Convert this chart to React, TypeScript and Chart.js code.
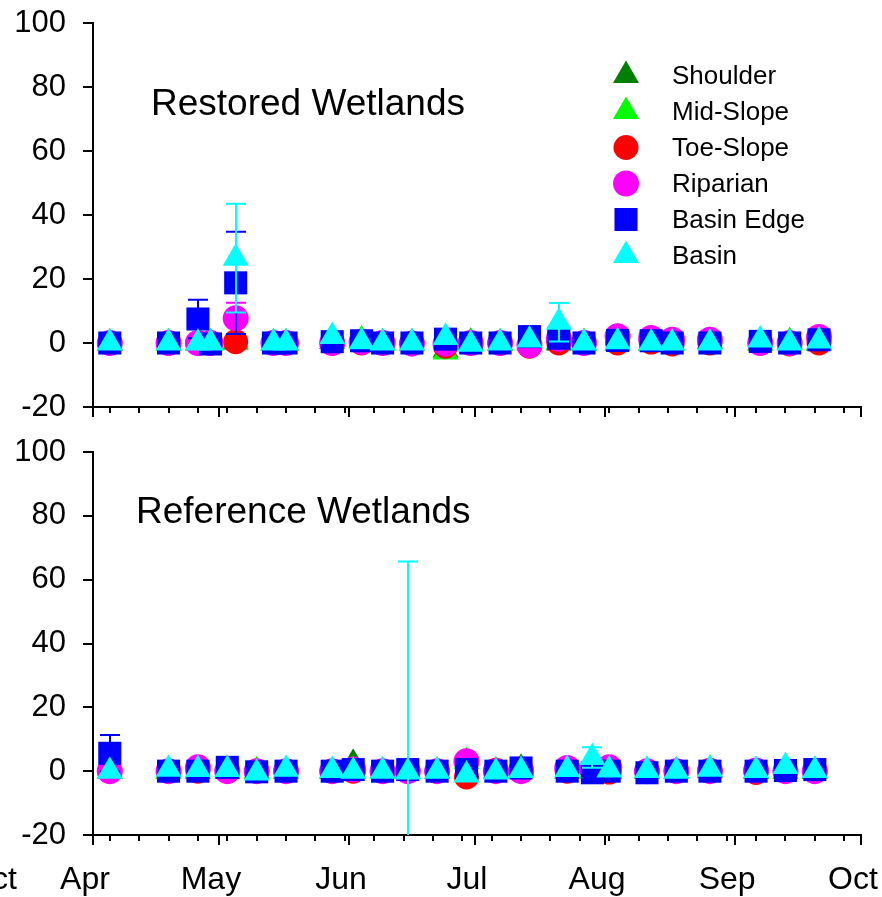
import React, { useEffect, useRef } from 'react';
import { Chart, registerables } from 'chart.js';
import { drawPoint } from 'chart.js/helpers';

Chart.register(...registerables);

// ---------- axis data ----------
const MONTH_LABELS = ['Apr', 'May', 'Jun', 'Jul', 'Aug', 'Sep', 'Oct'];
const MONTH_START_DAY = [0, 30, 61, 91, 122, 153, 183]; // days after Apr 1
const WEEK_TICK_DAY = [4, 11, 18, 25, 32, 39, 46, 53, 60, 67, 74, 81, 88, 95, 102, 109, 116, 123, 130, 137, 144, 151, 158, 165, 172, 179];
const Y_TICKS = [-20, 0, 20, 40, 60, 80, 100];

const SERIES_NAMES = ['Shoulder', 'Mid-Slope', 'Toe-Slope', 'Riparian', 'Basin Edge', 'Basin'];

// ---------- Restored wetlands ----------
const RESTORED_DATES = ['Apr 5', 'Apr 19', 'Apr 26', 'Apr 29', 'May 5', 'May 14', 'May 17', 'May 28', 'Jun 4', 'Jun 9', 'Jun 16', 'Jun 24', 'Jun 30', 'Jul 7', 'Jul 14', 'Jul 21', 'Jul 27', 'Aug 4', 'Aug 12', 'Aug 17', 'Aug 26', 'Sep 7', 'Sep 14', 'Sep 21'];
const R_SHOULDER = [0, 0, 0, 0, 0.3, 0, 0, 0.5, 0.8, 0, 0, -2.2, 0.2, 0, 0.3, 0, 0, 0, 0, 0, 0.5, 0, 0.3, 0];
const R_MIDSLOPE = [0, 0, 0, 0, 0.6, 0, 0, 0.5, 0.9, 0, 0, -2.8, 0, 0, 0, 0.5, 0, 0, 0, 0, 0.6, 0, 0.3, 0];
const R_TOESLOPE = [0, 0, 0, 0, 0.4, 0, 0, 0, 0, 0, 0, -1.0, 0, 0, -1.0, 0, 0, 0, 0.3, -0.3, 0, 0, -0.3, 0];
const R_RIPARIAN = [0, 0, 0, 0, 7.7, 0, 0, 0, 0.3, 0, -0.2, -0.2, 0, 0, -0.7, 1.3, 0, 2.1, 1.6, 1.0, 1.0, 0, 0, 1.9];
const R_BASINEDGE = [0, 0, 7.5, -0.3, 18.8, 0, 0, 0.4, 0.7, 0, 0, 1.2, 0, 0, 2.0, 1.5, 0, 0.8, 0.7, 0, 0, 0.5, 0, 1.0];
const R_BASIN = [0, 0, 0, 0, 26.5, 0, 0, 2.0, 0.4, 0, 0, 1.7, -0.4, 0, 0.9, 6.5, 0, 0.4, 0, 0, 0, 0.9, 0, 0.6];
// standard errors (0 = not visible)
const R_RIPARIAN_ERR = [0, 0, 0, 0, 4.9, 0, 0, 0, 0, 0, 0, 0, 0, 0, 0, 0, 0, 0, 0, 0, 0, 0, 0, 0];
const R_BASINEDGE_ERR = [0, 0, 6, 0, 16, 0, 0, 0, 0, 0, 0, 1.8, 0, 0, 0, 0, 0, 0, 0, 0, 0, 0, 0, 0];
const R_BASIN_ERR = [0, 0, 0, 0, 17, 0, 0, 0, 0, 0, 0, 0, 0, 0, 0, 6, 0, 0, 0, 0, 0, 0, 0, 0];

// ---------- Reference wetlands ----------
const REFERENCE_DATES = ['Apr 5', 'Apr 19', 'Apr 26', 'May 3', 'May 10', 'May 17', 'May 28', 'Jun 2', 'Jun 9', 'Jun 15', 'Jun 22', 'Jun 29', 'Jul 6', 'Jul 12', 'Jul 23', 'Jul 29', 'Aug 2', 'Aug 11', 'Aug 18', 'Aug 26', 'Sep 6', 'Sep 13', 'Sep 20'];
const F_SHOULDER = [0, 0, 0, 0, 0, 0, 0, 2.5, 0, 0, 0, 0, 0, 0.9, 0, 0, 0, 0, 0, 0.3, 0, 0, 0];
const F_MIDSLOPE = [0, 0, 0, 0.5, 0, 0, 0, 0, 0, 0, 0, 3.0, 0, 0.3, 0, 0, 0, 0.2, 0, 0.6, 0, 0, 0.2];
const F_TOESLOPE = [0, 0, 0, 0, 0, 0, 0, 0, 0, 0, 0, -1.8, 0.3, 0.5, 0, 0, -0.3, 0, 0, 0.3, -0.4, 0, 0];
const F_RIPARIAN = [0, 0, 1.2, 0, 0, 0, 0, 0.5, 0, 0, 0, 3.1, 0, 0, 1.0, 0.5, 1.2, 0, 0, 0, 0.2, 0, 0];
const F_BASINEDGE = [5.6, 0, 0, 1.2, -0.2, 0, 0, 0.5, 0, 0.5, 0, 0.5, 0, 1.0, 0, -0.5, 0, -0.5, 0, 0, 0, 0.2, 0.5];
const F_BASIN = [0, 0.6, 0.5, 0.5, -0.6, 0.6, 0.2, 0, 0, -0.3, 0, -1.2, -0.3, 0.2, 0.5, 4.3, 0.4, 0.2, 0, 0.6, 0.2, 1.5, 0.2];
const F_BASINEDGE_ERR = [5.7, 0, 0, 0, 0, 0, 0, 0, 0, 0, 0, 0, 0, 0, 0, 0, 0, 0, 0, 0, 0, 0, 0];
const F_BASIN_ERR = [0, 0, 0, 0, 0, 0, 0, 0, 0, 66, 0, 0, 0, 0, 0, 3.2, 0, 0, 0, 0, 0, 0, 0];

// ---------- styles ----------
const FONT = "'Liberation Sans', Arial, Helvetica, sans-serif";
const SERIES_STYLE = [
  { color: '#008000', pointStyle: 'triangle', radius: 15 },
  { color: '#00FF00', pointStyle: 'triangle', radius: 15 },
  { color: '#FF0000', pointStyle: 'circle', radius: 12.5 },
  { color: '#FF00FF', pointStyle: 'circle', radius: 13 },
  { color: '#0000FF', pointStyle: 'rect', radius: 16.3 },
  { color: '#00FFFF', pointStyle: 'triangle', radius: 15 },
];
const X_TICK_PADDING = 16;
const X_TICK_FONT = 32;
const Y_TICK_FONT = 31;
const TITLE_FONT = 37;
const LEGEND_FONT = 26;

function dayOf(label: string): number {
  const [mon, d] = label.split(' ');
  return MONTH_START_DAY[MONTH_LABELS.indexOf(mon)] + Number(d) - 1;
}

interface Panel {
  title: string;
  titleDx: number;
  titleBaseline: number;
  dates: string[];
  values: number[][];
  errors: (number[] | null)[];
  legend: boolean;
  labels: boolean;
  padTop: number;
  xHeight: number;
  leftover: boolean;
}

const RESTORED_PANEL: Panel = {
  title: 'Restored Wetlands',
  titleDx: 58,
  titleBaseline: 115,
  dates: RESTORED_DATES,
  values: [R_SHOULDER, R_MIDSLOPE, R_TOESLOPE, R_RIPARIAN, R_BASINEDGE, R_BASIN],
  errors: [null, null, null, R_RIPARIAN_ERR, R_BASINEDGE_ERR, R_BASIN_ERR],
  legend: true,
  labels: false,
  padTop: 23,
  xHeight: 23,
  leftover: false,
};

const REFERENCE_PANEL: Panel = {
  title: 'Reference Wetlands',
  titleDx: 43,
  titleBaseline: 93,
  dates: REFERENCE_DATES,
  values: [F_SHOULDER, F_MIDSLOPE, F_TOESLOPE, F_RIPARIAN, F_BASINEDGE, F_BASIN],
  errors: [null, null, null, null, F_BASINEDGE_ERR, F_BASIN_ERR],
  legend: false,
  labels: true,
  padTop: 22,
  xHeight: 62,
  leftover: true,
};

function makeDecorPlugin(panel: Panel) {
  return {
    id: 'panelDecor',
    afterDatasetDraw(chart: any, args: any) {
      const ds = chart.data.datasets[args.index];
      const errs: number[] | null = ds.errorValues;
      if (!errs) return;
      const ctx = chart.ctx;
      const area = chart.chartArea;
      const xs = chart.scales.x;
      const ys = chart.scales.y;
      ctx.save();
      ctx.beginPath();
      ctx.rect(area.left, area.top - 3, area.right - area.left, area.bottom - area.top + 3);
      ctx.clip();
      ctx.strokeStyle = ds.backgroundColor;
      ctx.lineWidth = 2;
      ds.data.forEach((p: any, j: number) => {
        const e = errs[j];
        if (!e) return;
        const x = Math.round(xs.getPixelForValue(p.x));
        const yTop = ys.getPixelForValue(p.y + e);
        const yBot = ys.getPixelForValue(p.y - e);
        ctx.beginPath();
        ctx.moveTo(x, yTop);
        ctx.lineTo(x, yBot);
        ctx.moveTo(x - 10, yTop);
        ctx.lineTo(x + 10, yTop);
        ctx.moveTo(x - 10, yBot);
        ctx.lineTo(x + 10, yBot);
        ctx.stroke();
      });
      ctx.restore();
    },
    afterDraw(chart: any) {
      const ctx = chart.ctx;
      const area = chart.chartArea;
      const xs = chart.scales.x;
      ctx.save();
      // weekly minor ticks
      ctx.strokeStyle = '#000';
      ctx.lineWidth = 2;
      ctx.beginPath();
      WEEK_TICK_DAY.forEach((d) => {
        const x = Math.round(xs.getPixelForValue(d));
        ctx.moveTo(x, area.bottom);
        ctx.lineTo(x, area.bottom + 6);
      });
      ctx.stroke();
      // panel title
      ctx.fillStyle = '#000';
      ctx.font = `${TITLE_FONT}px ${FONT}`;
      ctx.textAlign = 'left';
      ctx.textBaseline = 'alphabetic';
      ctx.fillText(panel.title, area.left + panel.titleDx, panel.titleBaseline);
      // legend
      if (panel.legend) {
        chart.data.datasets.forEach((ds: any, i: number) => {
          const y = area.top + 52.5 + i * 36;
          ctx.fillStyle = ds.backgroundColor;
          ctx.strokeStyle = ds.backgroundColor;
          drawPoint(ctx, { pointStyle: ds.pointStyle, radius: ds.pointRadius, rotation: 0, borderWidth: 0 } as any, area.right - 235, y);
          ctx.fillStyle = '#000';
          ctx.font = `${LEGEND_FONT}px ${FONT}`;
          ctx.textAlign = 'left';
          ctx.textBaseline = 'middle';
          ctx.fillText(ds.label, area.right - 189, y + 1);
        });
      }
      // clipped month label of the neighbouring panel
      if (panel.leftover) {
        ctx.fillStyle = '#000';
        ctx.font = `${X_TICK_FONT}px ${FONT}`;
        ctx.textAlign = 'right';
        ctx.textBaseline = 'middle';
        ctx.fillText('Oct', 17, xs.top + 10 + X_TICK_PADDING + (X_TICK_FONT * 1.2) / 2);
      }
      ctx.restore();
    },
  };
}

function buildConfig(panel: Panel): any {
  const datasets = SERIES_NAMES.map((name, i) => ({
    label: name,
    data: panel.dates.map((d, j) => ({ x: dayOf(d), y: panel.values[i][j] })),
    errorValues: panel.errors[i],
    pointStyle: SERIES_STYLE[i].pointStyle,
    pointRadius: SERIES_STYLE[i].radius,
    pointHoverRadius: SERIES_STYLE[i].radius,
    backgroundColor: SERIES_STYLE[i].color,
    borderColor: SERIES_STYLE[i].color,
    pointBorderWidth: 0,
    showLine: false,
    order: SERIES_NAMES.length - 1 - i,
  }));
  return {
    type: 'scatter',
    data: { datasets },
    options: {
      responsive: false,
      maintainAspectRatio: false,
      animation: false,
      events: [],
      layout: { padding: { top: panel.padTop, right: 21, left: 0, bottom: 0 } },
      plugins: { legend: { display: false }, tooltip: { enabled: false }, title: { display: false } },
      scales: {
        x: {
          type: 'linear',
          min: MONTH_START_DAY[0],
          max: MONTH_START_DAY[MONTH_START_DAY.length - 1],
          afterBuildTicks: (scale: any) => {
            scale.ticks = MONTH_START_DAY.map((v) => ({ value: v }));
          },
          afterFit: (scale: any) => {
            scale.height = panel.xHeight;
            scale.paddingLeft = 0;
            scale.paddingRight = 0;
          },
          border: { display: true, color: '#000', width: 2 },
          grid: { display: true, drawOnChartArea: false, drawTicks: true, tickLength: 10, color: '#000', lineWidth: 2 },
          ticks: {
            display: panel.labels,
            autoSkip: false,
            maxRotation: 0,
            minRotation: 0,
            padding: X_TICK_PADDING,
            labelOffset: -8,
            color: '#000',
            font: { family: FONT, size: X_TICK_FONT },
            callback: (v: number) => {
              const k = MONTH_START_DAY.indexOf(v);
              return k >= 0 ? MONTH_LABELS[k] : '';
            },
          },
        },
        y: {
          type: 'linear',
          min: Y_TICKS[0],
          max: Y_TICKS[Y_TICKS.length - 1],
          afterBuildTicks: (scale: any) => {
            scale.ticks = Y_TICKS.map((v) => ({ value: v }));
          },
          afterFit: (scale: any) => {
            scale.width = 93;
            scale.paddingTop = 0;
            scale.paddingBottom = 0;
          },
          border: { display: true, color: '#000', width: 2 },
          grid: { display: true, drawOnChartArea: false, drawTicks: true, tickLength: 10, color: '#000', lineWidth: 2 },
          ticks: {
            padding: 17,
            color: '#000',
            font: { family: FONT, size: Y_TICK_FONT },
          },
        },
      },
    },
    plugins: [makeDecorPlugin(panel)],
  };
}

export default function App() {
  const topRef = useRef<HTMLCanvasElement>(null);
  const botRef = useRef<HTMLCanvasElement>(null);
  useEffect(() => {
    const c1 = new Chart(topRef.current as HTMLCanvasElement, buildConfig(RESTORED_PANEL));
    const c2 = new Chart(botRef.current as HTMLCanvasElement, buildConfig(REFERENCE_PANEL));
    return () => {
      c1.destroy();
      c2.destroy();
    };
  }, []);
  return (
    <div style={{ position: 'absolute', left: 0, top: 0, width: 882, height: 897, background: '#fff' }}>
      <canvas ref={topRef} width={882} height={430} style={{ display: 'block', width: 882, height: 430 }} />
      <canvas ref={botRef} width={882} height={467} style={{ display: 'block', width: 882, height: 467 }} />
    </div>
  );
}
